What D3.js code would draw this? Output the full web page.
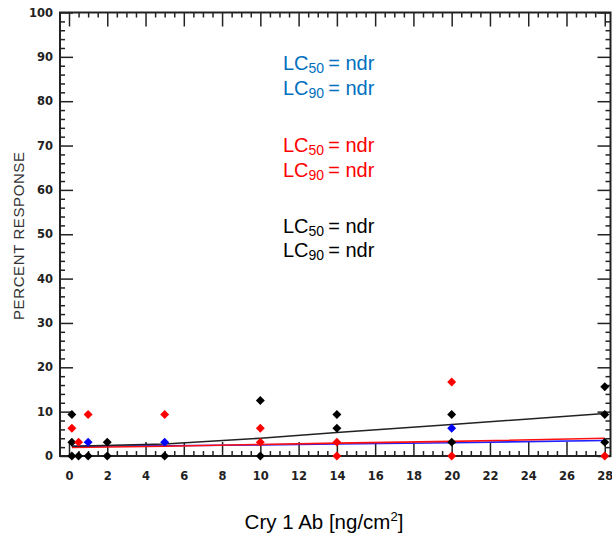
<!DOCTYPE html>
<html>
<head>
<meta charset="utf-8">
<script src="https://cdn.jsdelivr.net/npm/d3@7"></script>
<style>
  body { margin: 0; background: #fff; }
  .tick text { font-family: "DejaVu Sans", sans-serif; font-weight: bold; font-size: 11.5px; fill: #222; }
  .tick line { stroke: #222; stroke-width: 1.5; }
</style>
</head>
<body>
<div id="chart"></div>
<script>
var w = 612, h = 535;

// data
var blackPoints = [[0.15, 9.375], [0.15, 3.125], [0.15, 0], [0.5, 0], [1, 0], [2, 3.125], [2, 0],
                   [5, 0], [10, 12.5], [10, 0], [14, 9.375], [14, 6.25], [20, 9.375], [20, 3.125],
                   [28, 15.625], [28, 9.375], [28, 3.125]];
var redPoints = [[0.15, 6.25], [0.5, 3.125], [1, 9.375], [5, 9.375], [10, 6.25], [10, 3.125],
                 [14, 3.125], [14, 0], [20, 16.67], [20, 0], [28, 0]];
var bluePoints = [[1, 3.125], [5, 3.125], [20, 6.25]];

var fitDoses = [0.15, 5, 10, 14, 20, 28];
var blackFit = [2.2, 2.7, 4.0, 5.3, 7.1, 9.6];
var redFit = [1.9, 2.2, 2.6, 2.9, 3.3, 4.0];
var blueFit = [2.2, 2.3, 2.5, 2.7, 3.0, 3.5];

var xTicks = d3.range(0, 29, 2);
var yTicks = d3.range(0, 101, 10);

var annotations = [
  {color: "#0070C0", sub: "50", y: 70}, {color: "#0070C0", sub: "90", y: 95},
  {color: "#FF0000", sub: "50", y: 152}, {color: "#FF0000", sub: "90", y: 177},
  {color: "#000000", sub: "50", y: 233}, {color: "#000000", sub: "90", y: 257}
];

var plotLeft = 60, plotRight = 610.5, plotTop = 12.5, plotBottom = 456;

var svg = d3.select("#chart").append("svg")
    .attr("width", w)
    .attr("height", h);

var x = d3.scaleLinear().domain([-0.47, 28.3]).range([plotLeft, plotRight]),
    y = d3.scaleLinear().domain([0, 100]).range([plotBottom, plotTop]);

// minor ticks
var xMinor = d3.range(0, 28.3, 0.5).filter(function(d) { return d % 2 !== 0; });
var yMinor = d3.range(0, 100, 2).filter(function(d) { return d % 10 !== 0; });

function axisGroup(axis, tx, ty) {
  var g = svg.append("g")
      .attr("transform", "translate(" + tx + "," + ty + ")")
      .call(axis);
  g.select(".domain").remove();
  return g;
}

// bottom
axisGroup(d3.axisBottom(x).tickValues(xTicks).tickSize(-14).tickPadding(16).tickSizeOuter(0), 0, plotBottom);
axisGroup(d3.axisBottom(x).tickValues(xMinor).tickSize(-5).tickFormat("").tickSizeOuter(0), 0, plotBottom);
// top
axisGroup(d3.axisTop(x).tickValues(xTicks).tickSize(-14).tickFormat("").tickSizeOuter(0), 0, plotTop);
axisGroup(d3.axisTop(x).tickValues(xMinor).tickSize(-5).tickFormat("").tickSizeOuter(0), 0, plotTop);
// left
axisGroup(d3.axisLeft(y).tickValues(yTicks).tickSize(-13).tickPadding(7).tickSizeOuter(0), plotLeft, 0);
axisGroup(d3.axisLeft(y).tickValues(yMinor).tickSize(-5).tickFormat("").tickSizeOuter(0), plotLeft, 0);
// right
axisGroup(d3.axisRight(y).tickValues(yTicks).tickSize(-13).tickFormat("").tickSizeOuter(0), plotRight, 0);
axisGroup(d3.axisRight(y).tickValues(yMinor).tickSize(-5).tickFormat("").tickSizeOuter(0), plotRight, 0);

// frame
svg.append("rect")
    .attr("x", plotLeft).attr("y", plotTop)
    .attr("width", plotRight - plotLeft).attr("height", plotBottom - plotTop)
    .attr("fill", "none")
    .attr("stroke", "#222")
    .attr("stroke-width", 2);

// fitted lines
var line = d3.line()
    .x(function(d) { return x(d[0]); })
    .y(function(d) { return y(d[1]); });

[[blueFit, "#2020ff"], [redFit, "#ff1010"], [blackFit, "#222"]].forEach(function(s) {
  svg.append("path")
      .datum(fitDoses.map(function(d, i) { return [d, s[0][i]]; }))
      .attr("fill", "none")
      .attr("stroke", s[1])
      .attr("stroke-width", 1.6)
      .attr("d", line);
});

// points
var diamond = d3.symbol().type(d3.symbolSquare).size(40);
[[blackPoints, "#000"], [redPoints, "#ff0000"], [bluePoints, "#0000ff"]].forEach(function(s) {
  svg.append("g").selectAll("path")
    .data(s[0])
    .enter().append("path")
      .attr("d", diamond)
      .attr("fill", s[1])
      .attr("transform", function(d) { return "translate(" + x(d[0]) + "," + y(d[1]) + ") rotate(45)"; });
});

// LC annotations
annotations.forEach(function(a) {
  var t = svg.append("text")
      .attr("x", 283)
      .attr("y", a.y)
      .attr("fill", a.color)
      .style("font-family", "Liberation Sans, Arial, sans-serif")
      .style("font-size", "20px");
  t.append("tspan").text("LC");
  t.append("tspan").attr("dy", 3).style("font-size", "14px").text(a.sub);
  t.append("tspan").attr("dy", -3).text("\u2009= ndr");
});

// axis titles
var xt = svg.append("text")
    .attr("x", 324)
    .attr("y", 529)
    .attr("text-anchor", "middle")
    .attr("fill", "#000")
    .style("font-family", "Liberation Sans, Arial, sans-serif")
    .style("font-size", "20.5px");
xt.append("tspan").text("Cry 1 Ab [ng/cm");
xt.append("tspan").attr("dy", -8).style("font-size", "13px").text("2");
xt.append("tspan").attr("dy", 8).text("]");

svg.append("text")
    .attr("transform", "translate(23.5,236) rotate(-90)")
    .attr("text-anchor", "middle")
    .attr("fill", "#333")
    .attr("textLength", 168)
    .attr("lengthAdjust", "spacing")
    .style("font-family", "Liberation Sans, Arial, sans-serif")
    .style("font-size", "15px")
    .text("PERCENT  RESPONSE");
</script>
</body>
</html>
